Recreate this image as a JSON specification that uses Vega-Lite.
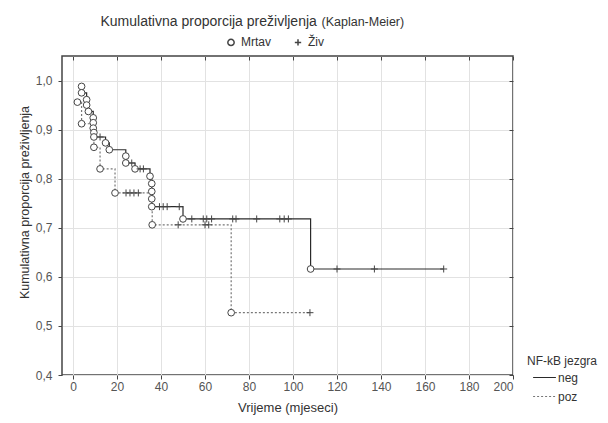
{
  "$schema": "https://vega.github.io/schema/vega-lite/v6.json",
  "width": 451,
  "height": 319,
  "autosize": {"type": "none"},
  "padding": {"left": 62, "top": 56, "right": 95, "bottom": 48},
  "background": "white",
  "config": {
    "font": "Liberation Sans",
    "view": {"stroke": "#444", "strokeWidth": 1.5}
  },
  "data": {"values": [
    {"g": "neg", "t": 3.9, "s": 0.988, "st": "Mrtav"},
    {"g": "neg", "t": 3.9, "s": 0.975, "st": "Mrtav"},
    {"g": "neg", "t": 6.2, "s": 0.961, "st": "Mrtav"},
    {"g": "neg", "t": 6.2, "s": 0.950, "st": "Mrtav"},
    {"g": "neg", "t": 7.0, "s": 0.937, "st": "Mrtav"},
    {"g": "neg", "t": 9.2, "s": 0.924, "st": "Mrtav"},
    {"g": "neg", "t": 9.2, "s": 0.914, "st": "Mrtav"},
    {"g": "neg", "t": 9.2, "s": 0.903, "st": "Mrtav"},
    {"g": "neg", "t": 9.5, "s": 0.894, "st": "Mrtav"},
    {"g": "neg", "t": 9.5, "s": 0.885, "st": "Mrtav"},
    {"g": "neg", "t": 12.3, "s": 0.885, "st": "Živ"},
    {"g": "neg", "t": 14.8, "s": 0.873, "st": "Mrtav"},
    {"g": "neg", "t": 16.5, "s": 0.859, "st": "Mrtav"},
    {"g": "neg", "t": 24.0, "s": 0.846, "st": "Mrtav"},
    {"g": "neg", "t": 24.0, "s": 0.832, "st": "Mrtav"},
    {"g": "neg", "t": 26.7, "s": 0.832, "st": "Živ"},
    {"g": "neg", "t": 28.2, "s": 0.820, "st": "Mrtav"},
    {"g": "neg", "t": 30.5, "s": 0.820, "st": "Živ"},
    {"g": "neg", "t": 32.0, "s": 0.820, "st": "Živ"},
    {"g": "neg", "t": 35.0, "s": 0.805, "st": "Mrtav"},
    {"g": "neg", "t": 35.8, "s": 0.790, "st": "Mrtav"},
    {"g": "neg", "t": 35.8, "s": 0.774, "st": "Mrtav"},
    {"g": "neg", "t": 35.8, "s": 0.759, "st": "Mrtav"},
    {"g": "neg", "t": 35.8, "s": 0.743, "st": "Mrtav"},
    {"g": "neg", "t": 39.3, "s": 0.743, "st": "Živ"},
    {"g": "neg", "t": 41.0, "s": 0.743, "st": "Živ"},
    {"g": "neg", "t": 42.8, "s": 0.743, "st": "Živ"},
    {"g": "neg", "t": 48.3, "s": 0.743, "st": "Živ"},
    {"g": "neg", "t": 50.0, "s": 0.718, "st": "Mrtav"},
    {"g": "neg", "t": 54.0, "s": 0.718, "st": "Živ"},
    {"g": "neg", "t": 59.2, "s": 0.718, "st": "Živ"},
    {"g": "neg", "t": 60.8, "s": 0.718, "st": "Živ"},
    {"g": "neg", "t": 63.0, "s": 0.718, "st": "Živ"},
    {"g": "neg", "t": 72.6, "s": 0.718, "st": "Živ"},
    {"g": "neg", "t": 74.1, "s": 0.718, "st": "Živ"},
    {"g": "neg", "t": 83.5, "s": 0.718, "st": "Živ"},
    {"g": "neg", "t": 94.0, "s": 0.718, "st": "Živ"},
    {"g": "neg", "t": 96.0, "s": 0.718, "st": "Živ"},
    {"g": "neg", "t": 97.9, "s": 0.718, "st": "Živ"},
    {"g": "neg", "t": 108.0, "s": 0.616, "st": "Mrtav"},
    {"g": "neg", "t": 120.0, "s": 0.616, "st": "Živ"},
    {"g": "neg", "t": 137.0, "s": 0.616, "st": "Živ"},
    {"g": "neg", "t": 168.5, "s": 0.616, "st": "Živ"},
    {"g": "poz", "t": 2.0, "s": 0.956, "st": "Mrtav"},
    {"g": "poz", "t": 3.9, "s": 0.912, "st": "Mrtav"},
    {"g": "poz", "t": 9.5, "s": 0.864, "st": "Mrtav"},
    {"g": "poz", "t": 12.3, "s": 0.820, "st": "Mrtav"},
    {"g": "poz", "t": 19.1, "s": 0.771, "st": "Mrtav"},
    {"g": "poz", "t": 24.1, "s": 0.771, "st": "Živ"},
    {"g": "poz", "t": 25.9, "s": 0.771, "st": "Živ"},
    {"g": "poz", "t": 27.7, "s": 0.771, "st": "Živ"},
    {"g": "poz", "t": 29.7, "s": 0.771, "st": "Živ"},
    {"g": "poz", "t": 36.0, "s": 0.706, "st": "Mrtav"},
    {"g": "poz", "t": 47.8, "s": 0.706, "st": "Živ"},
    {"g": "poz", "t": 60.0, "s": 0.706, "st": "Živ"},
    {"g": "poz", "t": 61.7, "s": 0.706, "st": "Živ"},
    {"g": "poz", "t": 71.9, "s": 0.527, "st": "Mrtav"},
    {"g": "poz", "t": 107.7, "s": 0.527, "st": "Živ"}
  ]},
  "layer": [
    {
      "mark": {"type": "line", "interpolate": "step-after", "strokeWidth": 1.2},
      "encoding": {
        "x": {"field": "t", "type": "quantitative",
          "scale": {"domain": [-5, 200], "nice": false, "zero": false},
          "axis": {"orient": "bottom", "values": [0, 20, 40, 60, 80, 100, 120, 140, 160, 180, 200],
            "grid": true, "gridColor": "#e2e2e2", "domain": false, "tickColor": "#444", "tickSize": 4,
            "labelColor": "#555", "labelFontSize": 12, "labelPadding": 2,
            "title": "Vrijeme (mjeseci)", "titleFontSize": 13, "titleFontWeight": "normal", "titleColor": "#333", "titlePadding": 9}},
        "y": {"field": "s", "type": "quantitative",
          "scale": {"domain": [0.4, 1.05], "nice": false, "zero": false},
          "axis": {"orient": "left", "values": [0.4, 0.5, 0.6, 0.7, 0.8, 0.9, 1.0],
            "labelExpr": "replace(format(datum.value, '.1f'), '.', ',')",
            "grid": true, "gridColor": "#e2e2e2", "domain": false, "tickColor": "#444", "tickSize": 4,
            "labelColor": "#555", "labelFontSize": 12, "labelPadding": 6,
            "title": "Kumulativna proporcija preživljenja", "titleFontSize": 12.5, "titleFontWeight": "normal", "titleColor": "#333", "titlePadding": 4, "titleY": 146}},
        "color": {"field": "g", "type": "nominal",
          "scale": {"domain": ["neg", "poz"], "range": ["#2a2a2a", "#777777"]},
          "legend": {"title": "NF-kB jezgra", "orient": "none", "legendX": 465, "legendY": 300,
            "titleFontSize": 12, "titleFontWeight": "normal", "titleColor": "#333", "titlePadding": -3,
            "labelFontSize": 12, "labelColor": "#333", "labelOffset": 1,
            "symbolType": "stroke", "symbolSize": 520, "symbolStrokeWidth": 1.2, "symbolOffset": 5, "rowPadding": -4}},
        "strokeDash": {"field": "g", "type": "nominal",
          "scale": {"domain": ["neg", "poz"], "range": [[1, 0], [2, 2]]},
          "legend": {"title": "NF-kB jezgra", "orient": "none", "legendX": 465, "legendY": 300,
            "titleFontSize": 12, "titleFontWeight": "normal", "titleColor": "#333", "titlePadding": -3,
            "labelFontSize": 12, "labelColor": "#333", "labelOffset": 1,
            "symbolType": "stroke", "symbolSize": 520, "symbolStrokeWidth": 1.2, "symbolOffset": 5, "rowPadding": -4}}
      }
    },
    {
      "transform": [{"filter": "datum.st == 'Mrtav'"}],
      "mark": {"type": "point", "filled": true, "fill": "white", "stroke": "#444", "strokeWidth": 1, "size": 45, "opacity": 1},
      "encoding": {
        "x": {"field": "t", "type": "quantitative",
          "axis": {"orient": "top", "values": [0, 20, 40, 60, 80, 100, 120, 140, 160, 180, 200],
            "labels": false, "grid": false, "domain": false, "ticks": true, "tickSize": -4, "tickColor": "#444",
            "title": "Kumulativna proporcija preživljenja", "titleX": 38, "titleY": -31, "titleAlign": "left",
            "titleBaseline": "alphabetic", "titleFontSize": 14, "titleFontWeight": "normal", "titleColor": "#333"}},
        "y": {"field": "s", "type": "quantitative", "axis": null},
        "shape": {"field": "st", "type": "nominal",
          "scale": {"domain": ["Mrtav", "Živ"], "range": ["circle", "M-1,0H1M0,-1V1"]},
          "legend": {"title": null, "orient": "none", "legendX": 163, "legendY": -20, "direction": "horizontal",
            "labelFontSize": 12, "labelColor": "#333", "symbolSize": 40, "columnPadding": 20, "labelOffset": 4,
            "encode": {"symbols": {"update": {"stroke": {"value": "#444"}, "fill": {"value": "white"}, "strokeWidth": {"value": 1}, "opacity": {"value": 1}}}}}}
      }
    },
    {
      "transform": [{"filter": "datum.st == 'Živ'"}],
      "mark": {"type": "point", "filled": false, "stroke": "#444", "strokeWidth": 1, "size": 49, "opacity": 1},
      "encoding": {
        "x": {"field": "t", "type": "quantitative", "axis": null},
        "y": {"field": "s", "type": "quantitative",
          "axis": {"orient": "right", "values": [0.4, 0.5, 0.6, 0.7, 0.8, 0.9, 1.0],
            "labels": false, "grid": false, "domain": false, "ticks": true, "tickSize": -4, "tickColor": "#444",
            "title": "(Kaplan-Meier)", "titleX": -192, "titleY": -31, "titleAngle": 0, "titleAlign": "left",
            "titleBaseline": "alphabetic", "titleFontSize": 12.5, "titleFontWeight": "normal", "titleColor": "#333"}},
        "shape": {"field": "st", "type": "nominal",
          "scale": {"domain": ["Mrtav", "Živ"], "range": ["circle", "M-1,0H1M0,-1V1"]},
          "legend": {"title": null, "orient": "none", "legendX": 163, "legendY": -20, "direction": "horizontal",
            "labelFontSize": 12, "labelColor": "#333", "symbolSize": 40, "columnPadding": 20, "labelOffset": 4,
            "encode": {"symbols": {"update": {"stroke": {"value": "#444"}, "fill": {"value": "white"}, "strokeWidth": {"value": 1}, "opacity": {"value": 1}}}}}}
      }
    }
  ],
  "resolve": {"axis": {"x": "independent", "y": "independent"}}
}
